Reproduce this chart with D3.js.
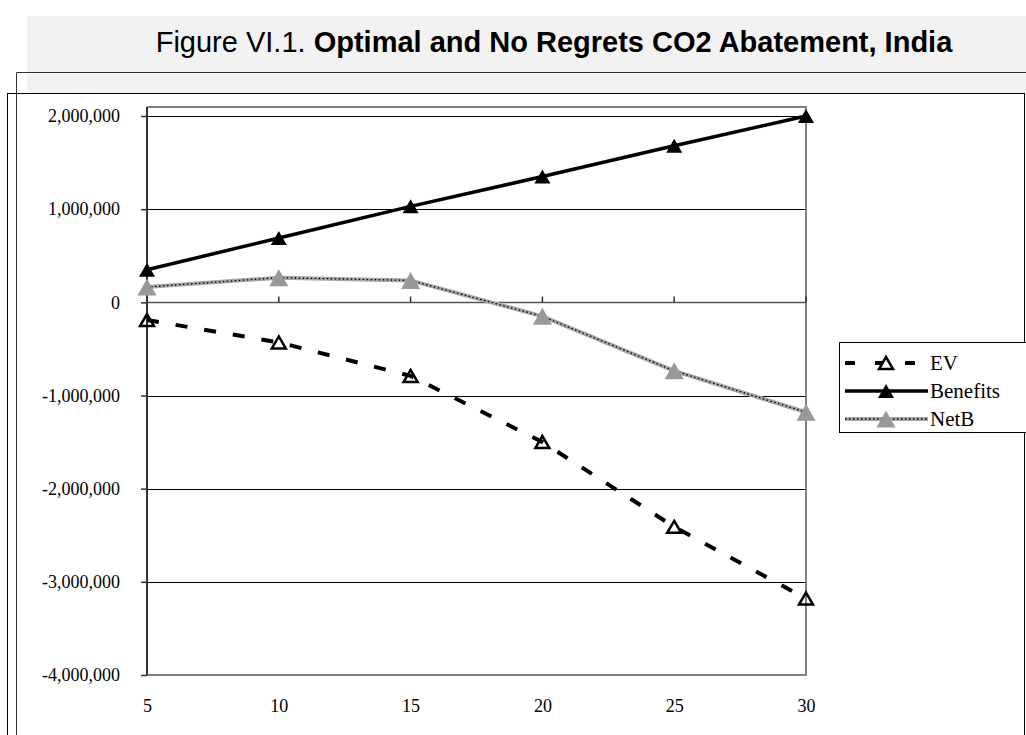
<!DOCTYPE html>
<html>
<head>
<meta charset="utf-8">
<script src="https://cdn.jsdelivr.net/npm/d3@7"></script>
<style>
    body { margin: 0; background: #fff; }
    .axis text { font-family: "Liberation Serif", "Times New Roman", serif; font-size: 18px; fill: #000; }
    .axis path.domain { display: none; }
</style>
</head>
<body>
<div id="chart"></div>
<script>
// data
let years = ["5", "10", "15", "20", "25", "30"];
let ev = [-190000, -430000, -790000, -1500000, -2410000, -3180000];
let benefits = [350000, 690000, 1030000, 1350000, 1680000, 2000000];
let netB = [165000, 265000, 235000, -150000, -735000, -1180000];
let yTicks = [-4000000, -3000000, -2000000, -1000000, 0, 1000000, 2000000];
let seriesNames = ["EV", "Benefits", "NetB"];

let width = 1026, height = 735;
let svg = d3.select("#chart").append("svg")
    .attr("width", width)
    .attr("height", height);

// title banner + frames
svg.append("rect")
    .attr("x", 27).attr("y", 16)
    .attr("width", width - 27).attr("height", 80)
    .attr("fill", "#f2f2f2");

let title = svg.append("text")
    .attr("x", 554).attr("y", 52)
    .style("text-anchor", "middle")
    .style("font-family", "'Liberation Sans', Arial, sans-serif")
    .style("font-size", "29px");
title.append("tspan").text("Figure VI.1. ");
title.append("tspan").style("font-weight", "bold").text("Optimal and No Regrets CO2 Abatement, India");

svg.append("line")
    .attr("x1", 16.5).attr("x2", width).attr("y1", 72.5).attr("y2", 72.5)
    .attr("stroke", "#333");

svg.append("rect")
    .attr("x", 7.5).attr("y", 93.5)
    .attr("width", 1017).attr("height", 700)
    .attr("fill", "#fff").attr("stroke", "#000");

svg.append("line")
    .attr("x1", 16.5).attr("x2", 16.5).attr("y1", 72.5).attr("y2", height)
    .attr("stroke", "#333");

// scales
let plotLeft = 147, plotRight = 806, plotTop = 107;
let xScale = d3.scalePoint().domain(years).range([plotLeft, plotRight]);
let yScale = d3.scaleLinear().domain([-4000000, 2000000]).range([675, 116]);

// plain hyphen for negatives, like the original
let fmt = d3.formatLocale({decimal: ".", thousands: ",", grouping: [3], currency: ["$", ""], minus: "-"}).format(",");

// gridlines
svg.append("g").selectAll("line")
    .data(yTicks.filter(d => d > -4000000 && d !== 0))
    .enter().append("line")
    .attr("x1", plotLeft).attr("x2", plotRight)
    .attr("y1", d => Math.round(yScale(d)) + 0.5)
    .attr("y2", d => Math.round(yScale(d)) + 0.5)
    .attr("stroke", "#000").attr("stroke-width", 1);

// plot area border (gray top/right/bottom)
svg.append("path")
    .attr("d", "M" + plotLeft + "," + plotTop + "H" + plotRight + "V" + yScale(-4000000) + "H" + plotLeft)
    .attr("fill", "none")
    .attr("stroke", "#808080").attr("stroke-width", 2);

// zero (category) axis line with ticks pointing up
let zeroY = Math.round(yScale(0)) + 0.5;
svg.append("line")
    .attr("x1", plotLeft).attr("x2", plotRight)
    .attr("y1", zeroY).attr("y2", zeroY)
    .attr("stroke", "#555").attr("stroke-width", 1.5);
svg.append("g").selectAll("line")
    .data(years.slice(1))
    .enter().append("line")
    .attr("x1", d => xScale(d)).attr("x2", d => xScale(d))
    .attr("y1", zeroY - 6).attr("y2", zeroY)
    .attr("stroke", "#333").attr("stroke-width", 1.5);

// y axis
let yAxis = d3.axisLeft(yScale)
    .tickValues(yTicks)
    .tickFormat(fmt)
    .tickSize(6)
    .tickPadding(21);
let yAx = svg.append("g")
    .attr("class", "axis")
    .attr("transform", "translate(" + plotLeft + ",0)")
    .call(yAxis);
yAx.selectAll(".tick line").attr("stroke", "#333").attr("stroke-width", 1.5);
svg.append("line")
    .attr("x1", plotLeft).attr("x2", plotLeft)
    .attr("y1", plotTop).attr("y2", yScale(-4000000))
    .attr("stroke", "#333").attr("stroke-width", 2);

// x axis labels sit below the plot
let xAxis = d3.axisBottom(xScale).tickSize(0).tickPadding(24);
let xAx = svg.append("g")
    .attr("class", "axis")
    .attr("transform", "translate(0," + yScale(-4000000) + ")")
    .call(xAxis);

// series
let line = d3.line()
    .x(d => xScale(d.year))
    .y(d => yScale(d.value));

function toPoints(values) {
    return years.map((y, i) => ({ year: y, value: values[i] }));
}

function triangle(cx, cy, w, h) {
    return "M" + cx + "," + (cy - h / 2) + "L" + (cx + w / 2) + "," + (cy + h / 2) + "L" + (cx - w / 2) + "," + (cy + h / 2) + "Z";
}

let evPts = toPoints(ev);
let benPts = toPoints(benefits);
let netPts = toPoints(netB);

// NetB: gray band with black dots
svg.append("path").datum(netPts)
    .attr("d", line)
    .attr("fill", "none").attr("stroke", "#a6a6a6").attr("stroke-width", 4);
svg.append("path").datum(netPts)
    .attr("d", line)
    .attr("fill", "none").attr("stroke", "#000").attr("stroke-width", 1.3)
    .attr("stroke-dasharray", "1.5,2.5");

// Benefits
svg.append("path").datum(benPts)
    .attr("d", line)
    .attr("fill", "none").attr("stroke", "#000").attr("stroke-width", 3.5);

// EV dashed
svg.append("path").datum(evPts)
    .attr("d", line)
    .attr("fill", "none").attr("stroke", "#000").attr("stroke-width", 4)
    .attr("stroke-dasharray", "12,17");

svg.append("g").selectAll("path")
    .data(netPts).enter().append("path")
    .attr("d", d => triangle(xScale(d.year), yScale(d.value), 19, 17))
    .attr("fill", "#999");

svg.append("g").selectAll("path")
    .data(benPts).enter().append("path")
    .attr("d", d => triangle(xScale(d.year), yScale(d.value), 16, 14))
    .attr("fill", "#000");

svg.append("g").selectAll("path")
    .data(evPts).enter().append("path")
    .attr("d", d => triangle(xScale(d.year), yScale(d.value), 14, 12))
    .attr("fill", "none").attr("stroke", "#000").attr("stroke-width", 2.5);

// Legend
let legend = svg.append("g").attr("id", "legend");
legend.append("rect")
    .attr("x", 839.5).attr("y", 342.5)
    .attr("width", 200).attr("height", 90)
    .attr("fill", "#fff").attr("stroke", "#000");

let legendY = [363, 391, 419];
let lx1 = 845, lx2 = 928, lmid = 886;

// EV
legend.append("line")
    .attr("x1", lx1).attr("x2", lx2).attr("y1", legendY[0]).attr("y2", legendY[0])
    .attr("stroke", "#000").attr("stroke-width", 4).attr("stroke-dasharray", "10,20");
legend.append("path")
    .attr("d", triangle(lmid, legendY[0], 14, 12))
    .attr("fill", "#fff").attr("stroke", "#000").attr("stroke-width", 2.5);
// Benefits
legend.append("line")
    .attr("x1", lx1).attr("x2", lx2).attr("y1", legendY[1]).attr("y2", legendY[1])
    .attr("stroke", "#000").attr("stroke-width", 3.5);
legend.append("path")
    .attr("d", triangle(lmid, legendY[1], 16, 14))
    .attr("fill", "#000");
// NetB
legend.append("line")
    .attr("x1", lx1).attr("x2", lx2).attr("y1", legendY[2]).attr("y2", legendY[2])
    .attr("stroke", "#a6a6a6").attr("stroke-width", 4);
legend.append("line")
    .attr("x1", lx1).attr("x2", lx2).attr("y1", legendY[2]).attr("y2", legendY[2])
    .attr("stroke", "#000").attr("stroke-width", 1.3).attr("stroke-dasharray", "1.5,2.5");
legend.append("path")
    .attr("d", triangle(lmid, legendY[2], 19, 17))
    .attr("fill", "#999");

legend.selectAll("text.lbl")
    .data(seriesNames).enter().append("text")
    .attr("class", "lbl")
    .attr("x", 930)
    .attr("y", (d, i) => legendY[i] + 7)
    .style("font-family", "'Liberation Serif', 'Times New Roman', serif")
    .style("font-size", "21px")
    .text(d => d);
</script>
</body>
</html>
